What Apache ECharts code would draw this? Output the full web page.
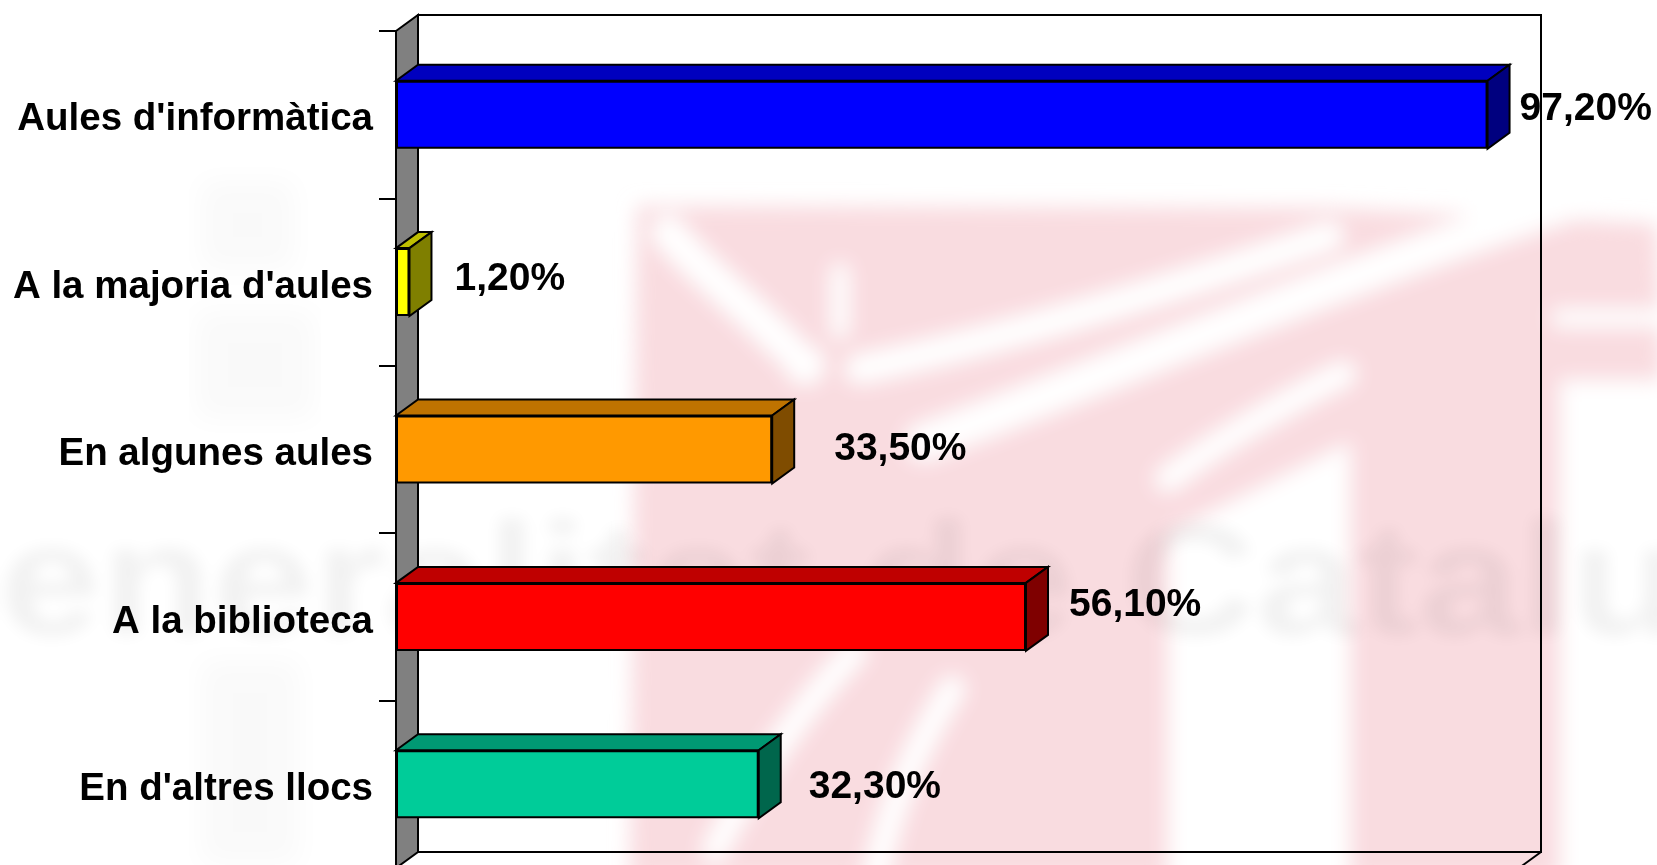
<!DOCTYPE html>
<html>
<head>
<meta charset="utf-8">
<style>
html,body{margin:0;padding:0;background:#fff;overflow:hidden;width:1657px;height:865px;}
#frame{position:absolute;left:0;top:0;width:1657px;height:865px;overflow:hidden;}
#wm{position:absolute;left:0;top:0;width:1657px;height:865px;}
#chart{position:absolute;left:0;top:0;width:1657px;height:900px;}
</style>
<script src="https://cdn.jsdelivr.net/npm/echarts@6/dist/echarts.min.js"></script>
</head>
<body>
<div id="frame">
<svg id="wm" viewBox="0 0 1657 865" aria-hidden="true">
  <defs>
    <filter id="soft" x="-5%" y="-5%" width="110%" height="110%"><feGaussianBlur stdDeviation="10"/></filter>
    <filter id="softer" x="-5%" y="-5%" width="110%" height="110%"><feGaussianBlur stdDeviation="8"/></filter>
    <filter id="softest" x="-5%" y="-5%" width="110%" height="110%"><feGaussianBlur stdDeviation="14"/></filter>
  </defs>
  <g filter="url(#soft)">
    <path fill="#f9dce0" d="M637 206 L1330 208 L1657 224 L1680 880 L630 880 Z"/>
    <g fill="none" stroke="#fff" stroke-linecap="round">
      <path stroke-width="34" d="M668 232 C700 270 740 300 790 350"/>
      <path stroke-width="18" d="M840 272 L840 330"/>
      <path stroke-width="30" d="M860 369 C1000 340 1170 290 1329 236"/>
      <path stroke-width="38" d="M924 442 C1120 370 1330 280 1560 205"/>
      <path stroke-width="26" d="M1168 479 C1220 440 1290 400 1343 374"/>
      <path stroke-width="26" d="M952 689 C920 740 890 800 875 880"/>
      <path stroke-width="26" d="M854 652 C800 710 750 780 715 850"/>
      <path stroke-width="18" d="M1560 318 L1680 318"/>
    </g>
    <circle cx="805" cy="365" r="20" fill="#fff"/>
    <path fill="#fff" d="M1168 533 L1350 442 L1350 890 L1168 890 Z"/>
    <rect x="1560" y="380" width="120" height="500" fill="#fff"/>
  </g>
  <g filter="url(#softer)" fill="#000" opacity="0.05">
    <text transform="translate(-142,634) scale(1.14,1)" font-family="'Liberation Sans'" font-weight="bold" font-size="160">Generalitat de Catalunya</text>
  </g>
  <g filter="url(#softest)" fill="#000" opacity="0.018">
    <rect x="200" y="180" width="95" height="90"/>
    <rect x="195" y="310" width="120" height="110"/>
    <rect x="200" y="660" width="100" height="205"/>
  </g>
</svg>
<div id="chart"></div>
</div>
<script>
// Data
const categories = ["Aules d'informàtica", "A la majoria d'aules", "En algunes aules", "A la biblioteca", "En d'altres llocs"];
const percentages = [97.2, 1.2, 33.5, 56.1, 32.3];
const axisRange = [0, 100];

// Styling, kept apart from the data
const faceColors = ['#0000ff', '#ffff00', '#ff9900', '#ff0000', '#00cc99'];
const topColors  = ['#0000bf', '#bfbf00', '#bf7300', '#bf0000', '#009973'];
const sideColors = ['#00007f', '#7f7f00', '#7f4c00', '#7f0000', '#00664c'];
const labelNudge = [[32, -5], [45, -3], [62, 0], [43, -12], [50, 3]];
const DEPTH_X = 22, DEPTH_Y = 16, BAR_H = 68;
const FONT = "'Liberation Sans', Arial, sans-serif";
const fmt = v => v.toFixed(2).replace('.', ',') + '%';

const chart = echarts.init(document.getElementById('chart'), null, {renderer: 'canvas', width: 1657, height: 900});
const line = {stroke: '#000', lineWidth: 2, lineJoin: 'miter'};

chart.setOption({
  backgroundColor: 'transparent',
  animation: false,
  tooltip: {show: false},
  legend: {show: false},
  grid: {left: 396, top: 31, width: 1123, height: 837, containLabel: false},
  xAxis: {type: 'value', min: axisRange[0], max: axisRange[1], show: false},
  yAxis: {
    type: 'category', inverse: true, data: categories,
    axisLine: {show: true, lineStyle: {color: '#000', width: 2}},
    axisTick: {show: true, length: 17, alignWithLabel: false, lineStyle: {color: '#000', width: 2}},
    axisLabel: {margin: 23, fontFamily: FONT, fontWeight: 'bold', fontSize: 38.5, color: '#000', verticalAlign: 'top', lineHeight: 10},
    splitLine: {show: false}
  },
  series: [
    {
      // grey wall on the left and the frame of the back plane
      type: 'custom', silent: true, z: 1, clip: false,
      data: [[0, 0]],
      encode: {x: 0, y: 1},
      renderItem: function (params) {
        const g = params.coordSys;
        const L = g.x, T = g.y, R = g.x + g.width, B = g.y + g.height;
        return {type: 'group', children: [
          {type: 'polygon', shape: {points: [[L, T], [L + DEPTH_X, T - DEPTH_Y], [L + DEPTH_X, B - DEPTH_Y], [L, B]]},
           style: Object.assign({fill: '#808080'}, line)},
          {type: 'rect', shape: {x: L + DEPTH_X, y: T - DEPTH_Y, width: g.width, height: g.height},
           style: Object.assign({fill: 'none'}, line)},
          {type: 'line', shape: {x1: R + DEPTH_X, y1: B - DEPTH_Y, x2: R, y2: B}, style: line}
        ]};
      }
    },
    {
      // top and side faces of every bar
      type: 'custom', silent: true, z: 2, clip: false,
      data: percentages.map((v, i) => [v, i]),
      encode: {x: 0, y: 1},
      renderItem: function (params, api) {
        const i = api.value(1);
        const a = api.coord([0, i]);
        const b = api.coord([api.value(0), i]);
        const t = a[1] - BAR_H / 2, u = a[1] + BAR_H / 2;
        return {type: 'group', children: [
          {type: 'polygon', shape: {points: [[a[0], t], [a[0] + DEPTH_X, t - DEPTH_Y], [b[0] + DEPTH_X, t - DEPTH_Y], [b[0], t]]},
           style: Object.assign({fill: topColors[i]}, line)},
          {type: 'polygon', shape: {points: [[b[0], t], [b[0] + DEPTH_X, t - DEPTH_Y], [b[0] + DEPTH_X, u - DEPTH_Y], [b[0], u]]},
           style: Object.assign({fill: sideColors[i]}, line)}
        ]};
      }
    },
    {
      type: 'bar', z: 3, barWidth: BAR_H, silent: true,
      data: percentages.map((v, i) => ({
        value: v,
        itemStyle: {color: faceColors[i], borderColor: '#000', borderWidth: 2},
        label: {offset: labelNudge[i]}
      })),
      label: {
        show: true, position: 'right', distance: 0,
        fontFamily: FONT, fontWeight: 'bold', fontSize: 39, color: '#000',
        formatter: p => fmt(p.value)
      }
    }
  ]
});
</script>
</body>
</html>
